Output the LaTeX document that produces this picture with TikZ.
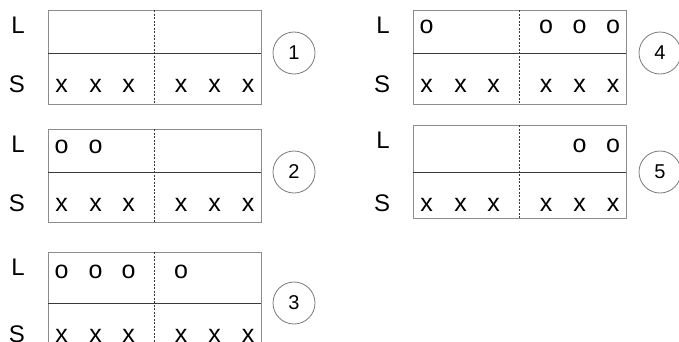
\documentclass[tikz,border=0pt]{standalone}
\usepackage{fontspec}
\setmainfont{Liberation Sans}
\definecolor{boxgray}{HTML}{8C8C8C}
\definecolor{rulegray}{HTML}{3A3A3A}
\definecolor{circgray}{HTML}{7A7A7A}

\tikzset{
  frame/.style={draw=boxgray, line width=0.9pt},
  midrule/.style={draw=rulegray, line width=0.9pt},
  divider/.style={draw=rulegray, line width=0.6pt, dash pattern=on 2pt off 1.5pt},
  rowlabel/.style={font=\fontsize{24}{24}\selectfont, anchor=base, inner sep=0pt},
  symb/.style={font=\fontsize{25}{25}\selectfont, anchor=base, inner sep=0pt},
  stepnum/.style={circle, draw=circgray, line width=0.8pt, minimum size=42pt,
                  inner sep=0pt, font=\fontsize{20}{20}\selectfont},
}

% tape with two rows: #1 name, #2 left, #3 top, #4 middle rule, #5 bottom
\newcommand\tapeframe[5]{%
  \draw[frame] (#2,#3) rectangle (#2+213,#5);
  \draw[midrule] (#2,#4) -- (#2+213,#4);
  \draw[divider] (#2+106,#3) -- (#2+106,#5);
  \node[rowlabel] (#1-L) at (#2-30,#3+23) {L};
  \node[rowlabel] (#1-S) at (#2-31,#4+39) {S};
}
% symbols in cells: #1 name, #2 left, #3 baseline, #4 symbol, #5 slot list
\newcommand\cellmarks[5]{%
  \foreach \s in {#5}{%
    \pgfmathsetmacro\xx{#2+{13.5,47.5,80.5,133,166.5,200}[\s-1]}%
    \node[symb] (#1-#4-\s) at (\xx,#3) {#4};
  }%
}

\begin{document}
\begin{tikzpicture}[x=1pt,y=-1pt]
\useasboundingbox (0,0) rectangle (679,341);
\clip (0,0) rectangle (679,341);

% step 1
\tapeframe{t1}{48}{10}{53}{104}
\cellmarks{t1}{48}{92}{x}{1,2,3,4,5,6}
\node[stepnum] (n1) at (294,53) {1};

% step 2
\tapeframe{t2}{48}{129}{172}{222}
\cellmarks{t2}{48}{153}{o}{1,2}
\cellmarks{t2}{48}{211}{x}{1,2,3,4,5,6}
\node[stepnum] (n2) at (294,172) {2};

% step 3 (its lower edge runs past the page)
\tapeframe{t3}{48}{252}{303}{354}
\cellmarks{t3}{48}{278}{o}{1,2,3,4}
\cellmarks{t3}{48}{342}{x}{1,2,3,4,5,6}
\node[stepnum] (n3) at (294,303) {3};

% step 4
\tapeframe{t4}{413}{10}{53}{104}
\cellmarks{t4}{413}{33}{o}{1,4,5,6}
\cellmarks{t4}{413}{92}{x}{1,2,3,4,5,6}
\node[stepnum] (n4) at (660,53) {4};

% step 5
\tapeframe{t5}{413}{125}{172}{218}
\cellmarks{t5}{413}{152}{o}{5,6}
\cellmarks{t5}{413}{211}{x}{1,2,3,4,5,6}
\node[stepnum] (n5) at (660,172) {5};
\end{tikzpicture}
\end{document}
